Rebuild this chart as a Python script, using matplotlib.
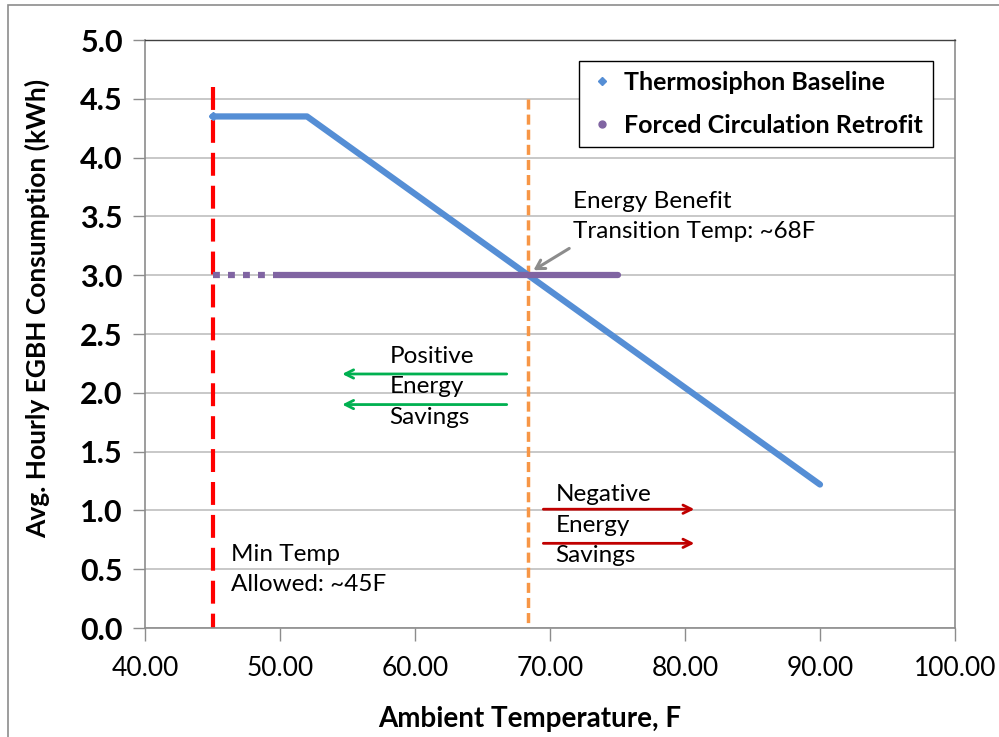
import matplotlib
matplotlib.use("Agg")
import matplotlib.pyplot as plt
from matplotlib.lines import Line2D
from matplotlib.patches import Rectangle

plt.rcParams['font.family'] = ['Lato', 'DejaVu Sans']

# ---- data ----
baseline_x = [45, 52, 90]
baseline_y = [4.35, 4.35, 1.22]
retrofit_x = [45, 50, 55, 60, 65, 70, 75]
retrofit_y = [3.0, 3.0, 3.0, 3.0, 3.0, 3.0, 3.0]
min_temp = 45
min_temp_top = 4.6
transition_temp = 68.35
transition_top = 4.5
x_ticks = [40, 50, 60, 70, 80, 90, 100]
y_ticks = [0.0, 0.5, 1.0, 1.5, 2.0, 2.5, 3.0, 3.5, 4.0, 4.5, 5.0]

blue = '#558ED5'
purple = '#8064A2'

fig = plt.figure(figsize=(9.99, 7.37), dpi=100)
ax = fig.add_axes([145/999, 1-628/737, 810/999, 588/737])

# figure border
fig.patches.append(Rectangle((8/999, -0.01), 1.0, 1 - 5/737 + 0.01, transform=fig.transFigure,
                             fill=False, edgecolor='#8C8C8C', linewidth=1.2, zorder=0))

ax.set_xlim(40, 100)
ax.set_ylim(0, 5.0)
ax.set_xticks(x_ticks)
ax.set_xticklabels([f"{v:.2f}" for v in x_ticks], fontsize=19)
ax.set_yticks(y_ticks)
ax.set_yticklabels([f"{v:.1f}" for v in y_ticks], fontsize=22, fontweight='bold')
ax.tick_params(axis='both', direction='out', length=9, width=1, color='#8C8C8C', pad=7)
ax.tick_params(axis='x', pad=11)
ax.yaxis.grid(True, color='#BFBFBF', linewidth=1.2)
ax.set_axisbelow(True)
for s in ['left', 'bottom', 'right']:
    ax.spines[s].set_color('#8C8C8C')
    ax.spines[s].set_linewidth(1.2)
ax.spines['top'].set_color('#404040')
ax.spines['top'].set_linewidth(1.0)

# vertical reference lines (drawn from top down so a full dash starts at the top)
ax.plot([min_temp, min_temp], [min_temp_top, 0], color='#FF0000', linewidth=3,
        dashes=(5.5, 2.4), zorder=2)
ax.plot([transition_temp, transition_temp], [transition_top, 0], color='#F79646', linewidth=2.5,
        dashes=(2.9, 1.45), zorder=2)

# series
ax.plot(baseline_x, baseline_y, color=blue, linewidth=4.5, solid_capstyle='round',
        solid_joinstyle='round', zorder=3)
ax.plot(baseline_x[:1], baseline_y[:1], marker='D', markersize=4, color=blue, zorder=3)
ax.plot(retrofit_x[:2], retrofit_y[:2], color=purple, linewidth=4.5, dashes=(1.1, 1.3),
        dash_capstyle='butt', zorder=4)
ax.plot(retrofit_x[1:], retrofit_y[1:], color=purple, linewidth=4.5, solid_capstyle='round',
        zorder=4)

# annotations
txt = dict(fontsize=17.5, color='black', linespacing=1.55)
ax.text(46.4, 0.495, "Min Temp\nAllowed: ~45F", ha='left', va='center', **txt)
ax.text(71.7, 3.5, "Energy Benefit\nTransition Temp: ~68F", ha='left', va='center', **txt)
ax.annotate('', xy=(68.6, 3.03), xytext=(71.6, 3.24),
            arrowprops=dict(arrowstyle='->,head_length=0.6,head_width=0.35', color='#8C8C8C', lw=2.2))
ax.text(58.1, 2.05, "Positive\nEnergy\nSavings", ha='left', va='center', **txt)
ax.text(70.4, 0.875, "Negative\nEnergy\nSavings", ha='left', va='center', **txt)

for yy in [2.16, 1.90]:
    ax.annotate('', xy=(54.4, yy), xytext=(67.0, yy),
                arrowprops=dict(arrowstyle='->,head_length=0.6,head_width=0.3', color='#00B050', lw=2))
for yy in [1.01, 0.72]:
    ax.annotate('', xy=(80.9, yy), xytext=(69.3, yy),
                arrowprops=dict(arrowstyle='->,head_length=0.6,head_width=0.3', color='#C00000', lw=2))

ax.set_xlabel("Ambient Temperature, F", fontsize=20, fontweight='bold')
ax.xaxis.set_label_coords(0.475, -0.133)
ax.set_ylabel("Avg. Hourly EGBH Consumption (kWh)", fontsize=19, fontweight='bold')
ax.yaxis.set_label_coords(-0.117, 0.544)

handles = [Line2D([], [], linestyle='none', marker='D', markersize=4, color=blue),
           Line2D([], [], linestyle='none', marker='o', markersize=5, color=purple)]
leg = fig.legend(handles, ["Thermosiphon Baseline", "Forced Circulation Retrofit"],
                 loc='upper right', bbox_to_anchor=(933/999, 1-61/737),
                 prop={'family': ['Lato', 'DejaVu Sans'], 'weight': 'bold', 'size': 18},
                 frameon=True, fancybox=False, edgecolor='black', framealpha=1,
                 handlelength=1.0, handletextpad=0.4, labelspacing=0.8, borderpad=0.4,
                 borderaxespad=0)
leg.get_frame().set_linewidth(1.0)

fig.savefig("out.png", dpi=100)
